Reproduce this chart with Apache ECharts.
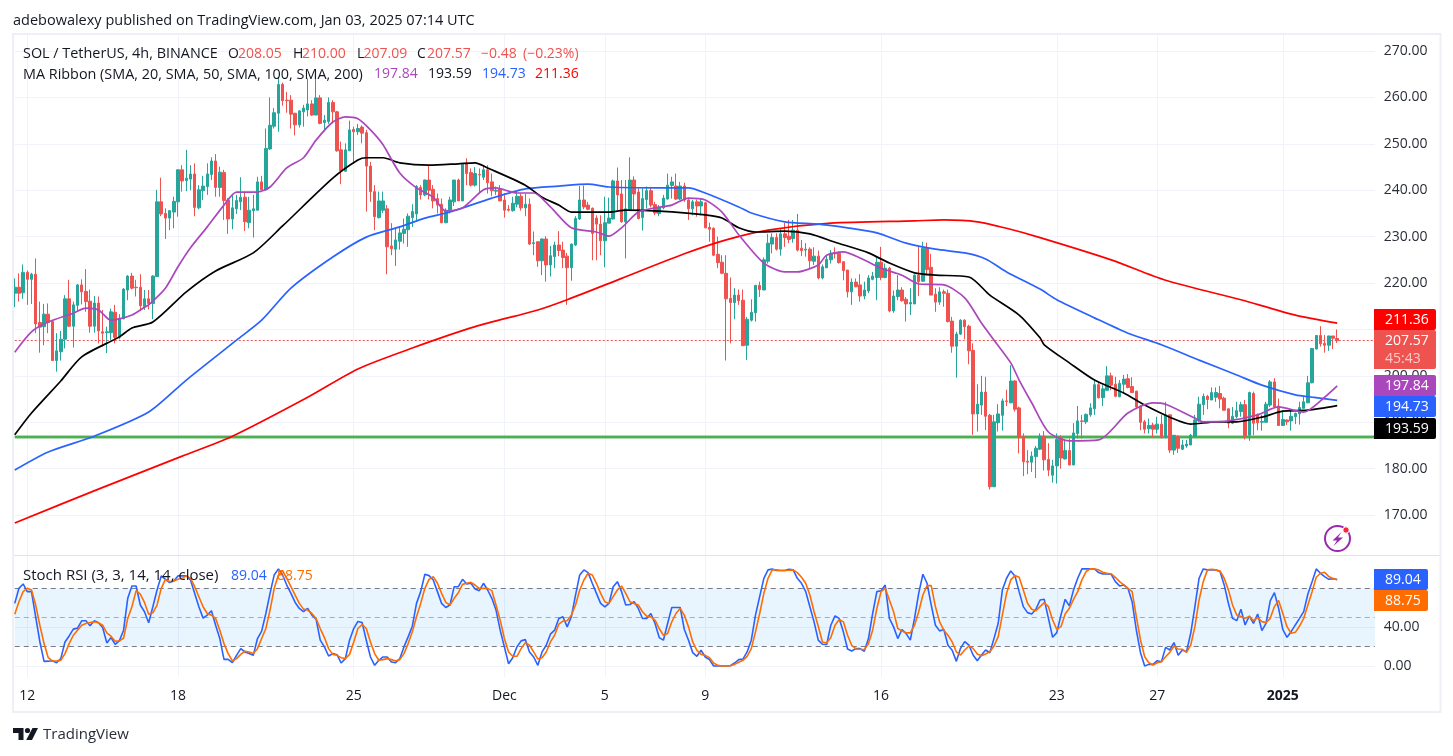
<!DOCTYPE html>
<html>
<head>
<meta charset="utf-8">
<title>SOL / TetherUS 4h</title>
<script src="https://cdn.jsdelivr.net/npm/echarts@6/dist/echarts.min.js"></script>
<style>html,body{margin:0;padding:0;background:#fff}#chart{width:1453px;height:756px}</style>
</head>
<body>
<div id="chart"></div>
<script>
// Four-hour candles: [open, high, low, close]
const candleRows = [
[217.8,221.0,214.8,219.1],[219.1,222.1,216.0,217.8],[217.9,224.0,216.6,222.3],[222.3,222.7,215.3,220.8],[220.8,222.2,215.5,221.9],
[221.9,225.3,209.2,211.2],[211.5,216.0,205.0,210.5],[210.6,215.5,206.6,213.3],[213.3,215.6,209.2,211.5],[211.7,211.9,203.3,203.3],
[203.3,209.2,200.9,205.4],[205.2,209.7,203.3,207.9],[207.9,217.4,205.9,216.6],[216.6,220.7,210.5,210.7],[210.7,216.0,206.1,215.3],
[215.2,219.8,213.8,219.6],[219.6,220.8,215.4,218.1],[218.2,223.0,213.8,216.0],[216.1,218.6,209.3,210.7],[210.7,217.2,209.3,215.7],
[215.7,217.1,207.0,209.7],[209.5,214.2,206.3,209.2],[209.3,210.6,204.9,209.5],[209.3,214.5,207.7,213.8],[213.7,215.3,207.0,208.3],
[208.3,213.3,207.9,212.4],[212.3,218.9,212.2,218.7],[218.5,221.7,216.3,221.5],[221.5,222.2,218.6,218.9],[219.1,220.7,217.1,219.0],
[219.1,221.9,214.0,215.1],[214.9,218.5,214.2,216.6],[216.6,218.5,214.3,215.6],[215.6,221.7,212.2,221.5],[221.4,240.1,221.4,237.5],
[237.5,242.7,234.4,234.9],[235.0,236.1,229.5,234.0],[234.0,235.7,231.4,235.6],[235.3,238.6,231.8,237.6],[237.5,244.5,234.3,244.4],
[244.4,245.4,239.7,242.0],[242.1,248.7,239.8,242.6],[242.4,245.4,240.0,243.5],[243.5,245.8,234.4,236.3],[236.2,241.1,235.9,240.1],
[239.9,243.1,237.9,240.9],[240.8,245.8,239.0,243.5],[243.4,247.1,242.2,246.3],[246.3,247.8,238.6,240.6],[240.6,245.1,238.6,243.9],
[243.8,244.4,233.6,237.8],[237.9,238.3,230.6,233.8],[233.8,239.0,231.6,236.2],[236.0,239.0,234.9,237.8],[237.5,242.8,235.7,238.5],
[238.5,239.7,231.2,233.2],[233.0,238.6,231.8,235.7],[235.6,239.0,229.8,236.0],[235.7,242.9,235.7,241.8],[241.8,243.1,239.9,240.1],
[240.1,253.3,239.9,249.0],[248.9,260.0,248.7,254.0],[253.8,257.7,253.3,256.7],[256.6,264.5,252.6,262.8],[262.8,263.2,258.2,259.3],
[259.4,261.2,256.7,259.3],[259.4,260.5,253.3,256.4],[256.6,256.6,251.8,254.1],[254.1,257.3,253.5,257.1],[256.9,258.4,253.7,257.7],
[257.3,264.1,255.9,258.6],[258.6,259.4,256.0,256.2],[256.2,264.1,256.2,259.9],[259.9,260.5,254.2,254.4],[254.6,256.2,253.0,255.1],
[254.8,260.0,254.3,258.9],[258.9,259.4,254.6,256.9],[256.9,257.1,248.3,248.5],[248.7,250.5,241.3,244.2],[244.1,250.1,244.0,248.7],
[248.5,255.0,248.5,253.0],[253.1,253.7,245.8,252.6],[252.6,254.3,251.9,253.3],[253.6,254.0,250.1,252.3],[252.4,253.0,235.4,245.2],
[245.2,246.1,237.5,239.7],[239.7,241.1,231.4,234.3],[234.1,239.7,233.9,237.7],[235.7,239.7,235.1,237.7],[236.0,236.8,221.9,227.8],
[228.0,232.9,226.0,227.4],[227.3,231.8,223.7,229.3],[229.0,232.1,227.2,230.8],[230.7,233.9,228.5,231.6],[231.5,235.0,227.8,234.4],
[234.1,237.0,232.1,235.4],[234.9,241.1,233.2,240.8],[240.6,241.1,238.0,239.0],[239.0,242.3,238.7,242.2],[242.2,245.4,238.0,240.0],
[240.2,241.1,236.1,237.7],[238.2,239.3,235.0,236.8],[237.0,238.2,232.9,233.0],[233.0,236.1,232.9,235.7],[235.5,238.6,235.0,237.9],
[237.5,242.2,236.6,242.2],[242.2,242.5,237.7,237.7],[237.7,245.8,237.7,245.6],[245.8,246.9,241.1,243.6],[243.8,244.7,240.8,241.1],
[241.1,245.0,240.8,243.6],[243.4,244.7,239.3,243.3],[242.8,245.4,242.2,244.4],[244.4,245.4,239.3,241.6],[241.8,243.6,238.7,239.9],
[239.8,240.8,239.0,240.0],[240.3,241.1,237.7,237.7],[237.9,239.3,234.1,235.7],[235.9,236.8,235.4,235.7],[235.6,238.6,235.4,237.2],
[237.0,239.7,236.3,238.7],[238.7,239.3,235.6,236.2],[236.2,239.3,234.4,237.0],[237.0,238.2,228.2,228.4],[228.5,231.1,226.0,228.7],
[228.9,228.9,223.5,224.8],[224.8,229.6,221.7,229.5],[229.5,230.1,220.3,223.9],[223.9,228.0,221.4,225.9],[225.7,228.9,223.2,228.2],
[228.2,231.2,225.8,227.0],[227.1,228.9,223.2,225.5],[225.8,226.5,215.3,223.3],[223.3,228.5,220.5,228.4],[228.2,234.4,228.0,233.9],
[233.8,240.9,233.6,237.9],[237.9,241.0,235.9,236.4],[236.8,237.5,235.7,235.9],[236.1,236.3,224.9,230.7],[234.0,234.6,224.9,232.7],
[232.7,234.6,226.0,229.1],[229.1,238.6,223.4,233.0],[232.9,238.4,232.9,234.0],[233.8,242.3,233.7,242.0],[242.0,244.9,235.7,239.0],
[239.2,242.2,233.0,233.2],[233.2,242.2,225.3,236.0],[235.9,247.1,235.7,242.2],[242.2,243.0,235.9,239.2],[239.6,240.4,233.7,233.9],
[234.1,240.4,231.3,238.2],[238.0,240.8,236.1,239.9],[239.9,240.6,236.3,236.8],[236.9,237.5,234.6,235.1],[235.0,236.8,234.4,236.3],
[236.2,239.0,235.9,238.3],[238.1,243.6,238.0,241.1],[241.0,242.9,238.2,241.8],[240.9,243.6,237.9,238.1],[238.1,241.8,237.9,240.9],
[240.9,241.6,237.5,237.9],[237.9,238.4,233.6,236.0],[236.0,237.9,234.6,237.5],[237.5,238.0,234.3,236.6],[236.6,238.2,234.6,237.5],
[237.3,237.5,231.8,231.9],[232.0,233.0,228.9,231.6],[231.8,232.0,225.8,226.0],[226.2,230.0,223.2,224.4],[224.5,226.0,221.9,222.1],
[222.1,226.0,203.3,216.6],[216.7,221.2,207.0,215.8],[215.8,218.9,212.2,217.4],[217.4,218.6,215.3,216.2],[216.3,218.6,206.5,206.5],
[206.6,212.7,203.4,212.2],[212.0,216.5,211.7,213.7],[213.6,219.6,211.7,219.5],[219.5,220.3,217.0,218.6],[218.5,225.5,218.5,225.0],
[224.7,230.6,224.2,228.6],[228.4,230.7,226.4,229.8],[229.8,230.7,227.0,227.3],[227.3,231.8,225.9,230.6],[230.6,233.0,227.8,229.8],
[230.1,233.6,228.6,229.4],[229.6,233.6,228.7,231.4],[231.4,234.9,226.8,227.1],[227.5,229.3,225.8,227.0],[227.1,228.6,225.7,227.3],
[227.3,227.7,223.2,224.8],[224.7,227.7,223.9,225.8],[225.8,227.0,220.8,221.1],[221.1,224.0,220.8,223.5],[223.3,226.0,223.2,225.1],
[225.0,227.1,224.2,226.4],[226.5,227.7,225.3,226.3],[226.4,226.8,224.2,224.4],[224.6,224.6,220.6,222.7],[222.8,222.8,216.9,218.1],
[218.1,221.0,215.3,220.2],[220.2,221.0,219.1,219.2],[219.6,221.9,216.0,217.2],[217.2,220.3,216.5,218.5],[218.3,221.7,217.8,221.1],
[220.8,222.4,220.6,221.5],[221.2,225.7,216.3,224.5],[224.5,227.8,220.6,221.2],[221.2,224.2,221.0,223.2],[223.2,223.5,213.7,214.0],
[214.0,218.4,213.6,217.2],[217.1,221.7,216.3,218.5],[218.5,219.1,216.0,216.2],[216.5,217.0,211.7,215.5],[215.5,218.9,213.1,215.8],
[215.5,221.9,215.5,221.7],[221.7,227.8,217.2,220.3],[220.4,228.9,220.3,227.5],[227.5,228.7,221.7,222.9],[223.4,226.3,217.4,217.4],
[217.6,218.9,213.8,215.9],[215.9,219.1,215.3,218.1],[218.1,218.6,214.9,217.8],[217.8,218.6,211.5,211.7],[211.8,212.7,205.0,206.4],
[206.4,209.5,199.6,209.0],[209.0,212.2,208.8,212.0],[212.0,212.2,207.9,210.6],[210.7,211.0,202.5,205.4],[205.5,207.0,187.3,191.8],
[191.8,198.2,188.0,193.9],[193.7,200.0,191.6,196.5],[196.5,199.8,188.3,191.3],[191.5,191.8,175.5,176.1],[176.1,191.6,176.1,190.1],
[189.9,193.9,188.0,191.8],[191.5,195.1,188.2,194.6],[194.6,197.0,193.5,194.5],[194.2,202.3,194.1,198.9],[198.9,199.1,192.3,192.8],
[193.1,193.4,183.3,186.7],[186.9,187.6,178.4,181.5],[181.6,184.0,178.8,181.4],[181.4,183.7,179.3,182.7],[182.6,184.9,178.0,184.4],
[184.2,187.6,184.0,187.0],[187.0,188.1,179.6,181.9],[182.0,185.5,178.4,179.7],[178.6,181.9,177.0,180.6],[180.6,187.6,176.8,186.3],
[186.5,187.2,180.0,182.3],[182.1,186.3,182.0,183.9],[183.9,186.5,180.8,180.8],[180.8,189.8,180.8,187.7],[187.6,193.5,186.5,190.3],
[190.3,191.6,186.5,190.2],[190.1,191.9,189.6,191.7],[191.6,194.1,191.2,193.1],[192.9,199.1,191.6,198.1],[198.1,198.7,195.1,195.3],
[195.3,198.0,193.5,197.2],[196.9,202.1,196.8,200.0],[200.0,200.7,196.9,198.0],[198.2,199.8,195.4,195.6],[195.5,199.1,195.4,198.4],
[198.2,200.2,196.2,199.3],[199.4,200.4,197.3,197.5],[197.7,199.7,196.4,196.4],[196.7,196.8,193.0,193.3],[193.5,193.7,188.3,190.0],
[190.1,190.5,187.6,188.5],[188.6,190.8,187.6,189.3],[189.4,189.9,186.7,188.5],[188.5,191.2,187.6,189.6],[189.6,191.6,186.5,186.7],
[186.7,194.4,186.6,191.6],[191.6,191.6,183.4,184.0],[184.0,187.2,183.0,187.2],[187.0,187.2,183.4,184.4],[184.2,186.2,184.0,185.1],
[184.9,186.2,184.5,185.3],[185.1,187.5,185.1,187.2],[187.0,191.6,186.9,190.5],[190.3,195.5,190.1,193.9],[193.8,196.2,191.6,195.6],
[195.6,195.9,192.8,194.9],[194.8,197.5,194.8,196.4],[195.4,197.5,194.4,196.4],[196.2,197.8,193.0,195.0],[195.2,195.5,192.5,192.6],
[192.9,193.0,188.7,189.8],[189.8,193.3,189.6,191.3],[191.2,194.4,190.8,192.5],[192.3,194.4,191.2,193.8],[193.8,194.8,186.3,187.1],
[187.2,196.6,186.0,196.4],[196.2,196.6,187.2,189.8],[191.6,191.9,188.3,189.9],[190.0,191.6,188.2,190.2],[190.0,194.4,189.9,193.9],
[193.7,199.1,193.3,198.7],[198.7,199.5,193.3,193.3],[193.5,195.1,189.2,189.3],[189.3,192.6,189.2,190.6],[190.5,190.6,189.4,190.1],
[190.3,192.6,188.2,191.3],[191.2,192.1,189.6,191.9],[191.8,194.4,189.5,193.2],[193.0,195.5,193.0,194.4],[194.2,200.0,194.1,198.5],
[198.5,205.9,198.4,205.9],[205.8,208.8,205.7,208.7],[208.7,210.7,206.3,206.9],[207.0,208.8,205.0,206.6],[206.6,208.6,205.4,208.6],
[208.6,208.6,205.8,208.1],[208.05,210.00,207.09,207.57]
];

// Moving averages as [candle number, price] knots
const sma20 = [[0,205.1],[4,209.5],[8,211.6],[14,213.5],[17,214.6],[20,214.2],[23,212.0],[28,213.1],[31,214.8],[32,215.3],[36,218.9],[39,223.5],[42,227.6],[46,232.1],[50,236.8],[53,239.6],[58,239.6],[61,240.7],[65,244.8],[69,247.0],[72,250.8],[76,254.7],[79,255.8],[82,255.4],[85,253.0],[88,249.8],[92,243.7],[96,240.5],[100,238.5],[103,235.5],[107,236.2],[112,240.1],[115,240.5],[120,239.4],[124,239.4],[128,236.4],[133,231.9],[139,231.0],[142,230.1],[145,231.9],[149,235.3],[153,236.2],[157,236.8],[161,238.3],[165,237.9],[169,235.3],[173,230.4],[179,224.3],[184,222.4],[187,222.4],[192,223.9],[194,226.0],[198,226.7],[202,225.4],[207,223.2],[212,221.7],[216,219.8],[222,219.6],[227,216.8],[231,211.4],[234,207.7],[238,202.8],[240,199.1],[243,194.2],[247,187.9],[252,186.0],[259,186.2],[266,192.0],[272,194.2],[275,193.9],[282,190.9],[284,190.1],[290,190.3],[297,191.6],[302,193.3],[308,192.2],[313,195.4],[316,197.84]];
const sma50 = [[0,187.3],[4,192.0],[11,198.9],[16,204.1],[25,208.4],[28,210.3],[33,211.6],[41,218.1],[48,222.6],[57,226.5],[64,232.3],[76,242.6],[82,246.5],[84,247.0],[88,247.0],[92,245.9],[99,245.4],[106,245.7],[110,245.9],[113,244.8],[122,241.1],[126,238.5],[130,236.8],[133,235.3],[142,235.3],[146,235.7],[154,235.5],[165,234.7],[169,234.0],[173,231.9],[177,231.0],[184,231.2],[190,230.6],[196,228.8],[204,226.5],[209,224.3],[215,222.2],[220,221.7],[228,221.3],[233,217.4],[240,213.1],[245,208.2],[246,206.7],[252,202.8],[258,199.1],[265,196.3],[270,193.7],[276,191.1],[281,189.6],[287,190.1],[292,190.1],[298,191.1],[303,192.4],[309,192.6],[316,193.59]];
const sma100 = [[0,179.7],[8,183.6],[19,187.0],[32,192.2],[41,199.1],[53,207.7],[59,212.0],[66,218.9],[76,225.6],[84,229.9],[92,232.1],[98,234.0],[104,235.3],[114,238.3],[122,240.3],[130,240.9],[137,241.3],[142,240.7],[156,240.5],[161,240.5],[165,239.4],[173,236.4],[176,235.1],[184,233.2],[192,232.7],[199,231.9],[206,230.8],[213,228.6],[220,227.3],[227,226.5],[232,225.2],[237,222.4],[245,218.7],[249,216.4],[258,212.5],[266,209.2],[274,206.7],[283,203.4],[292,200.2],[298,198.0],[306,195.9],[310,195.4],[316,194.73]];
const sma200 = [[0,168.3],[20,175.6],[40,182.7],[52,187.0],[70,195.4],[82,201.5],[95,206.0],[110,210.6],[125,214.2],[132,216.4],[145,221.0],[160,226.3],[170,229.3],[180,231.4],[195,232.9],[215,233.4],[222,233.6],[230,233.2],[237,231.8],[245,229.8],[262,225.0],[275,220.6],[293,216.4],[300,214.6],[306,213.1],[316,211.36]];

// Stochastic RSI, one reading per candle
const stochK = [64.5,80,84.5,76.6,76.6,50.7,25,4.8,5,5.5,3.4,7.6,24.8,31,38,39,46.6,46.6,41.4,46.6,44.5,39.7,23.8,29.3,22.4,25.9,36.9,69.7,82.4,82.4,62.8,55.9,44.5,61,78.3,92.8,89.3,85.9,87.6,92.8,92.8,92.8,88.6,74.8,61,49.3,52.4,56.9,42,28.3,6.9,6.9,3.4,11,17.9,14.5,12.8,11,28.3,35.9,54.1,74.8,93.8,100,93.8,83.4,74.8,65.5,59.3,55.9,59.3,52.4,48.3,26.6,19.7,10.3,12.8,11.7,3.1,7.6,26.6,38.6,45.9,44.8,26.6,9.3,0.7,5.9,9.3,9.3,4.1,3.4,7.6,19.7,30,41,64.5,76.6,94.5,93.1,88.6,76.6,64.5,60.3,62.8,81.7,81.7,89.3,84.5,85.2,79.3,77.6,85.2,78.3,69.7,57.6,36.9,19.7,2.4,8.6,19.7,25.9,27.2,14.5,9.3,0.7,14.5,21.4,32.8,36.9,49,50.7,40.3,50.7,73.1,93.8,99,96.2,85.2,74.8,64.5,61,64.5,81.7,86.9,76.6,62.8,63.4,66.2,59.3,49,49,54.1,43.8,29.3,26.6,43.8,60.3,60.3,60.3,37.6,26.6,13.8,10,16.2,9.3,6.6,0,0,0,0,0.3,3.1,6.6,7.2,14.5,26.6,52.4,71.4,90.3,99,100,98.3,98.3,98.3,99.7,99,90.3,85.2,76.6,61,45.5,26.6,22.4,22.1,42,51.7,49,35.2,17.6,15.5,17.9,17.9,15.2,28.3,54.1,76.6,77.6,83.4,49,40.3,28.3,37.6,33.4,26.6,49,74.8,94.5,85.2,62.8,42,36.2,37.6,21.4,16.2,4.8,18.2,25.1,21.6,11.3,5.5,11.3,16.5,13.7,28.5,44,78.4,90.4,97.9,92.8,76.6,61.2,55,53.6,58.4,68,68.7,49.1,29.6,34.4,52.6,68.7,61.9,78.4,90.4,100,100,100,100,96.2,94.8,94.8,94.5,86.9,82.5,83.5,80,66.3,37.1,13.7,0,1.7,1.7,5.5,4.5,19.2,16.5,24.1,11,16.5,14.8,33.7,61.2,90.4,100,99,99,99,97.3,83.5,64.6,49.1,46.7,58.4,42.3,51.5,44,53.6,36.4,44,67,75.6,59.5,37.8,29.6,35.4,42.3,49.1,56,74.2,86.9,100,95.5,92.1,89.3,90,89.04];
const stochD = [53.4,66.2,76.6,80,78.3,62.8,42,23.1,8.6,5.2,5.2,5.9,12.8,23.1,31.7,36.9,42,43.8,44.8,45.5,44.5,42,34.1,30.7,25.5,25.9,28.6,49,61,77.6,74.1,65.5,53.4,54.8,62.8,80,89.3,86.9,87.6,89.3,90.3,92.8,90.3,81.7,71.4,61,54.1,52.4,49,36.9,23.1,12.8,5.2,7.6,12,15.2,14.5,12.8,17.9,28.3,38.6,57.6,80,93.8,98.3,90.3,81.7,73.1,64.5,58.6,57.6,54.1,49,38.6,29.3,17.9,12,11,8.6,7.6,12,24.8,38.6,42.8,38.6,24.8,12.8,5.9,6.6,7.6,6.6,5.2,6.6,12.8,23.1,35.2,50.7,64.5,80,89.3,92,85.2,74.8,65.5,62.8,69.7,75.5,84.1,85.2,86.2,83.4,80,80,80,77.6,62.8,47.2,28.3,14.5,10,10,17.9,24.1,21.4,14.5,7.2,8.6,14.5,24.8,31.7,43.1,46.2,46.6,52.4,62.8,78.3,88.6,95.5,93.8,85.2,74.8,66.2,64.5,71.4,78.3,82.4,74.8,66.2,64.5,62.8,55.9,51.4,50.7,47.2,38.6,31.7,33.4,45.5,54.1,59.3,52.4,40.3,24.8,16.2,12,11,8.6,3.1,0.7,0,0,0.3,1.7,3.8,5.9,10,17.9,35.2,54.1,74.8,90.3,99,99,98.3,98.3,98.6,99,96.2,91.4,85.2,73.1,55.9,41,24.8,23.8,29.3,42,47.9,45.5,31.7,21.4,17.6,17.2,16.9,23.1,36.9,59.3,76.6,80,67.9,55.9,38.6,36.2,34.1,34.1,42,55.9,73.1,82.8,82.8,61,45.5,36.9,31.7,24.8,14.5,11.3,16.5,20.6,18.2,12.4,10.7,12.4,14.8,20.6,30.2,52.6,74.9,88.7,93.1,91.4,78.4,64.6,58.4,57,61.2,65.3,61.2,47.4,37.8,40.5,53.6,59.5,68.7,76.6,88.7,97.3,100,100,99,96.6,95.5,94.8,91.4,86.9,83.5,80,76.6,50.9,26.8,9.6,3.4,1,3.4,4.5,9.6,14.1,20.6,17.5,17.2,14.1,21.6,40.5,68,86.9,99,99.7,99,97.9,90.4,78.4,62.9,52.6,50.9,49.1,50.9,46.7,49.8,45.7,44.7,49.1,61.2,67.4,54.3,40.5,33.7,34.7,41.2,49.1,62.9,76.6,91.4,95.5,96.6,92.1,90,88.75];

// Axis ticks
const priceTicks = [170,180,190,200,210,220,230,240,250,260,270];
const stochTicks = [0,40];
const stochLevels = [80,50,20];
const tickDates = ['2024-11-12 00:00','2024-11-18 00:00','2024-11-25 00:00','2024-12-01 00:00','2024-12-05 00:00','2024-12-09 00:00','2024-12-16 00:00','2024-12-23 00:00','2024-12-27 00:00','2025-01-01 00:00'];
const tickLabels = ['12','18','25','Dec','5','9','16','23','27','2025'];

// Horizontal levels on the price pane
const supportLevel = 186.8;
const lastClose = 207.57;

// Readouts
const maLast = {s20:'197.84', s50:'193.59', s100:'194.73', s200:'211.36'};
const stochLast = {k:'89.04', d:'88.75'};

const FONT = '"Open Sans", "Noto Sans", sans-serif';
const INK = '#131722';
const UP = '#26a69a', DOWN = '#ef5350';

// Time slots every 4h, running a little past the last candle for the right margin
const slotCount = 326;
const categories = [];
for (let i = 0; i < slotCount; i++) {
  const iso = new Date(Date.UTC(2024, 10, 11, 12 + 4 * i)).toISOString();
  categories.push(iso.slice(0, 10) + ' ' + iso.slice(11, 16));
}
const candleData = candleRows.map(r => [r[0], r[3], r[2], r[1]]);
const isTick = (i, v) => tickDates.includes(v);

const GRID_LEFT = 14.75, GRID_WIDTH = 1360.1;
const gridLine = {show: true, lineStyle: {color: '#f0f3fa', width: 1}};

function xAxis(gridIndex, showLabels) {
  return {
    type: 'category', gridIndex, data: categories, boundaryGap: false,
    axisLine: {show: false}, axisTick: {show: false},
    splitLine: Object.assign({interval: isTick}, gridLine),
    axisLabel: showLabels ? {
      show: true, interval: isTick, margin: 12, color: INK, fontFamily: FONT, fontSize: 14,
      hideOverlap: false,
      formatter: v => {
        const t = tickLabels[tickDates.indexOf(v)];
        return t === '2025' ? '{b|2025}' : t;
      },
      rich: {b: {fontWeight: 'bold', fontFamily: FONT, fontSize: 14, color: INK}}
    } : {show: false}
  };
}
function yAxis(gridIndex, min, max, ticks) {
  return {
    type: 'value', gridIndex, position: 'right', min, max, scale: true,
    axisLine: {show: false},
    axisTick: {show: false, customValues: ticks},
    splitLine: gridLine,
    axisLabel: {show: true, customValues: ticks, margin: 9, color: '#2a2e39', fontFamily: FONT, fontSize: 14,
      padding: [2, 0, 0, 0], formatter: v => v.toFixed(2)}
  };
}
function ma(name, data, color, width) {
  return {name, type: 'line', data, xAxisIndex: 0, yAxisIndex: 0, showSymbol: false, symbol: 'none',
    smooth: 0.25, clip: false, z: 5, silent: true, lineStyle: {color, width}};
}

// Overlay text and price tags
const text = (x, y, str, fill, font) => ({type: 'text', z: 100, silent: true,
  style: {x, y: y + 1, text: str, fill, font: (font || '14px') + ' ' + FONT, verticalAlign: 'middle'}});
const tag = (top, h, w, bg, str) => ([
  {type: 'rect', z: 90, silent: true, shape: {x: 1374, y: top, width: w, height: h, r: [0, 2, 2, 0]}, style: {fill: bg}},
  text(1385, top + h / 2 - 0.5, str, '#fff')
]);

const overlays = [
  {type: 'rect', z: 95, silent: true, shape: {x: 13, y: 34, width: 1427.5, height: 678}, style: {fill: 'none', stroke: '#eff0f6', lineWidth: 2}},
  {type: 'line', z: 60, silent: true, shape: {x1: 14, y1: 555.5, x2: 1440, y2: 555.5}, style: {stroke: '#e0e3eb', lineWidth: 1}},
  text(13, 19.5, 'adebowalexy published on TradingView.com, Jan 03, 2025 07:14 UTC', INK, '14.5px'),
  text(23, 53, 'SOL / TetherUS, 4h, BINANCE', INK, '14.4px'),
  text(228, 53, 'O', INK), text(238, 53, '208.05', DOWN),
  text(293, 53, 'H', INK), text(302, 53, '210.00', DOWN),
  text(357, 53, 'L', INK), text(363.5, 53, '207.09', DOWN),
  text(417, 53, 'C', INK), text(427, 53, '207.57', DOWN),
  text(481, 53, '\u22120.48', DOWN), text(523, 53, '(\u22120.23%)', DOWN),
  text(23, 73.5, 'MA Ribbon (SMA, 20, SMA, 50, SMA, 100, SMA, 200)', INK, '14.4px'),
  text(374, 73.5, maLast.s20, '#ab47bc'), text(428, 73.5, maLast.s50, INK),
  text(482, 73.5, maLast.s100, '#2962ff'), text(535, 73.5, maLast.s200, '#ff0000'),
  text(23, 575, 'Stoch RSI (3, 3, 14, 14, close)', INK, '15px'),
  text(231, 575, stochLast.k, '#2962ff'), text(277, 575, stochLast.d, '#ff6d00'),
  ...tag(309, 21, 62, '#ff0000', maLast.s200),
  {type: 'rect', z: 90, silent: true, shape: {x: 1374, y: 330, width: 62, height: 39, r: [0, 2, 2, 0]}, style: {fill: DOWN}},
  text(1385, 340, String(lastClose), '#fff'),
  text(1385, 358, '45:43', 'rgba(255,255,255,0.7)'),
  ...tag(375, 21, 62, '#ab47bc', maLast.s20),
  ...tag(396, 21, 62, '#2962ff', maLast.s100),
  ...tag(418, 21, 62, '#000000', maLast.s50),
  ...tag(569, 21, 54, '#2962ff', stochLast.k),
  ...tag(590, 21, 54, '#ff6d00', stochLast.d),
  // lightning badge
  {type: 'circle', z: 100, silent: true, shape: {cx: 1337.5, cy: 538.5, r: 12.5}, style: {fill: 'none', stroke: '#9c27b0', lineWidth: 2}},
  {type: 'polygon', z: 100, silent: true, shape: {points: [[1341.5,532],[1332.5,540.5],[1337,540.5],[1333.5,546],[1343,537.5],[1338,537.5]]}, style: {fill: '#9c27b0'}},
  {type: 'circle', z: 101, silent: true, shape: {cx: 1346, cy: 530, r: 3.2}, style: {fill: '#f7253e', stroke: '#fff', lineWidth: 1}},
  // TradingView mark
  {type: 'polygon', z: 100, silent: true, shape: {points: [[13,728],[23.5,728],[23.5,740],[18.5,740],[18.5,733],[13,733]]}, style: {fill: INK}},
  {type: 'circle', z: 100, silent: true, shape: {cx: 27.5, cy: 730.5, r: 2.6}, style: {fill: INK}},
  {type: 'polygon', z: 100, silent: true, shape: {points: [[32.5,728],[38,728],[32,740],[26.2,740]]}, style: {fill: INK}},
  text(43, 733.5, 'TradingView', '#2a2e39', '15px')
];

const chart = echarts.init(document.getElementById('chart'), null, {renderer: 'canvas'});
chart.setOption({
  animation: false,
  backgroundColor: '#ffffff',
  grid: [
    {left: GRID_LEFT, width: GRID_WIDTH, top: 35, height: 520},
    {left: GRID_LEFT, width: GRID_WIDTH, top: 556, height: 121}
  ],
  xAxis: [xAxis(0, false), xAxis(1, true)],
  yAxis: [yAxis(0, 161.4, 273.45, priceTicks), yAxis(1, -11.3, 113.3, stochTicks)],
  graphic: {elements: overlays},
  series: [
    {
      name: 'SOL', type: 'candlestick', data: candleData, xAxisIndex: 0, yAxisIndex: 0,
      barWidth: 3, clip: false, z: 3, silent: true,
      itemStyle: {color: UP, color0: DOWN, borderColor: UP, borderColor0: DOWN, borderWidth: 1},
      markLine: {
        silent: true, symbol: 'none', z: 1, animation: false, label: {show: false},
        data: [
          {yAxis: supportLevel, lineStyle: {color: 'rgba(76,175,80,0.45)', width: 4, type: 'solid'}},
          {yAxis: supportLevel, lineStyle: {color: '#4caf50', width: 2, type: 'solid'}},
          {yAxis: lastClose, lineStyle: {color: DOWN, width: 1, type: [2, 2]}}
        ]
      }
    },
    ma('SMA 200', sma200, '#ff0000', 1.7),
    ma('SMA 100', sma100, '#2962ff', 1.7),
    ma('SMA 50', sma50, '#000000', 1.7),
    ma('SMA 20', sma20, '#ab47bc', 1.7),
    {
      name: '%K', type: 'line', data: stochK, xAxisIndex: 1, yAxisIndex: 1, showSymbol: false, symbol: 'none',
      clip: false, z: 5, silent: true, lineStyle: {color: '#2962ff', width: 1.6},
      markArea: {silent: true, itemStyle: {color: 'rgba(33,150,243,0.1)'}, data: [[{yAxis: stochLevels[2]}, {yAxis: stochLevels[0]}]]},
      markLine: {
        silent: true, symbol: 'none', z: 2, animation: false, label: {show: false},
        data: [
          {yAxis: stochLevels[0], lineStyle: {color: '#787b86', width: 1, type: [5, 4]}},
          {yAxis: stochLevels[1], lineStyle: {color: 'rgba(120,123,134,0.6)', width: 1, type: [5, 4]}},
          {yAxis: stochLevels[2], lineStyle: {color: '#787b86', width: 1, type: [5, 4]}}
        ]
      }
    },
    {
      name: '%D', type: 'line', data: stochD, xAxisIndex: 1, yAxisIndex: 1, showSymbol: false, symbol: 'none',
      clip: false, z: 6, silent: true, lineStyle: {color: '#ff6d00', width: 1.6}
    }
  ]
});
</script>
</body>
</html>
